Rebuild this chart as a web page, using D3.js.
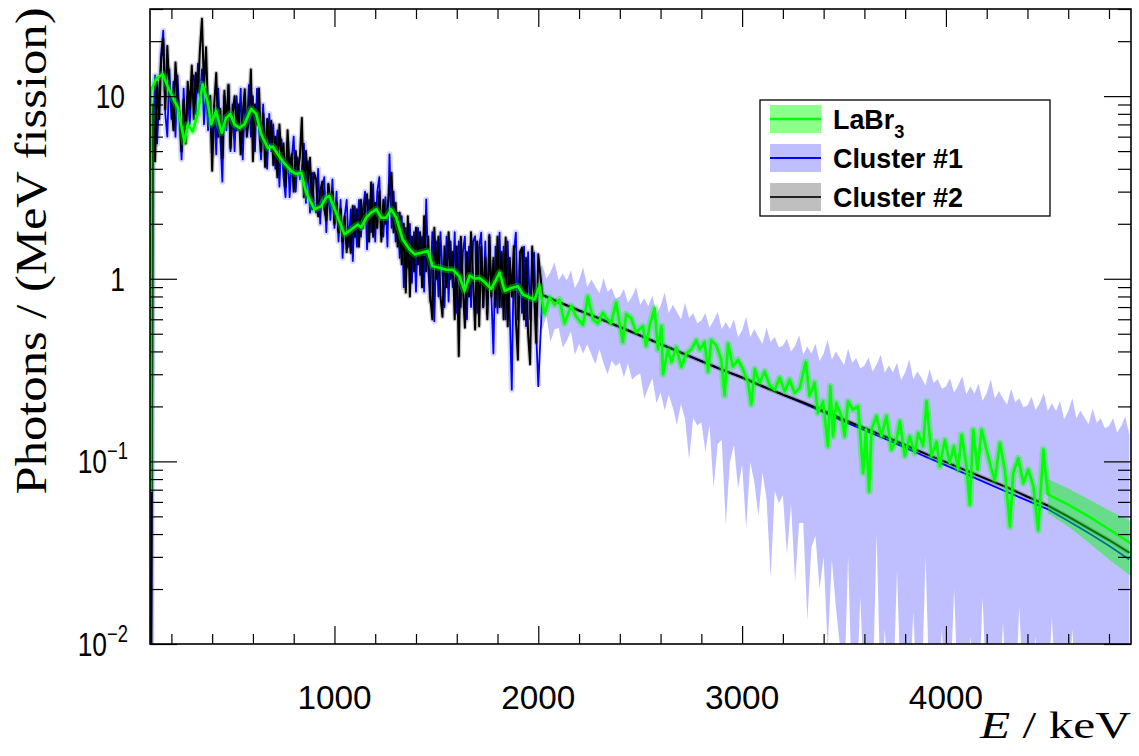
<!DOCTYPE html>
<html>
<head>
<meta charset="utf-8">
<script src="https://cdn.jsdelivr.net/npm/d3@7"></script>
<style>
  body { margin: 0; background: #fff; }
  svg { display: block; }
</style>
</head>
<body>
<svg id="chart" width="1139" height="756"></svg>
<script>
// ---------- LaBr3 spectrum (photons per MeV per fission) ----------
const labrE = [97,99,125,157,182,215,231,264,280,304,329,353,378,395,419,447,468,489,509,534,
  558,591,616,640,673,697,722,746,787,810,837,861,902,935,959,975,1008,1049,1082,1114,
  1131,1156,1180,1205,1229,1254,1278,1303,1335,1368,1393,1426,1458,1482,1515,1548,1581,1613,1638,1663,
  1687,1712,1736,1769,1793,1810,1835,1867,1900,1925,1957,1982,2006,
  2031,2055,2080,2104,2129,2161,2186,2219,2243,2268,2292,2317,2335,2357,2382,2415,2431,2455,2480,2513,2529,2546,
  2571,2587,2604,2612,2636,2653,2677,2702,2726,2751,2775,2792,2816,2833,2849,2874,2898,2914,2931,2955,
  2980,3004,3029,3045,3062,3086,3111,3135,3160,3184,3209,3233,3258,3283,
  3312,3331,3356,3372,3397,3421,3433,3446,3462,3487,3503,3520,3544,3569,3594,3607,3623,3635,3659,3684,
  3708,3733,3757,3774,3798,3823,3847,3864,3888,3905,3929,3954,3970,3995,4019,4039,4060,4077,4101,4117,
  4134,4155,4175,4199,4224,4240,4265,4289,4314,4330,4355,4380,4404,4429,4453,4478,4500];
const labrY = [0.068,10.7,12.4,13.2,11.3,9.4,8.7,5.6,7.0,6.4,8.0,11.6,9.3,7.0,8.3,6.3,7.6,8.0,7.0,6.7,
  7.0,8.5,8.0,6.2,5.2,5.3,4.8,4.4,3.9,3.75,3.8,2.96,2.40,2.50,2.78,2.84,2.30,1.75,1.86,1.98,
  1.91,2.16,2.30,2.40,2.16,2.16,2.40,2.16,1.64,1.45,1.36,1.39,1.42,1.17,1.15,1.12,1.12,1.03,0.86,1.04,
  1.00,1.01,0.96,0.88,0.99,1.08,0.86,0.89,0.91,0.82,0.79,0.77,0.91,
  0.64,0.79,0.72,0.77,0.57,0.71,0.62,0.56,0.80,0.60,0.57,0.65,0.61,0.57,0.74,0.45,0.64,0.61,0.51,0.55,0.43,0.55,
  0.69,0.41,0.55,0.30,0.41,0.35,0.42,0.33,0.39,0.41,0.46,0.41,0.45,0.31,0.46,0.43,0.36,0.23,0.44,0.33,
  0.36,0.32,0.27,0.205,0.32,0.27,0.31,0.26,0.247,0.287,0.242,0.28,0.237,0.252,
  0.35,0.228,0.27,0.184,0.213,0.121,0.258,0.137,0.209,0.177,0.137,0.213,0.192,0.20,0.0865,0.15,0.0685,0.149,0.177,0.137,
  0.177,0.116,0.131,0.166,0.107,0.137,0.111,0.143,0.121,0.213,0.107,0.128,0.094,0.131,0.098,0.121,0.090,0.140,0.094,0.058,
  0.149,0.090,0.149,0.116,0.090,0.079,0.126,0.090,0.044,0.0865,0.104,0.076,0.090,0.073,0.042,0.116,0.066];

// LaBr3 high-energy extrapolation with its uncertainty band
const labrTailE  = [4500, 4600, 4700, 4800, 4908];
const labrTailY  = [0.066, 0.058, 0.050, 0.0425, 0.0355];
const labrTailHi = [0.080, 0.071, 0.062, 0.054, 0.047];
const labrTailLo = [0.052, 0.044, 0.036, 0.029, 0.0235];

// ---------- Cluster detectors, measured part (10 keV bins, 100-2000 keV) ----------
const clusterBinE = d3.range(100, 2001, 10);
const cluster1Meas = [0.004,
  6.0,13.0,5.5,10.0,17.0,22.8,8.0,6.0,14.0,7.5,
  12.0,6.0,13.0,7.5,4.5,11.0,6.0,10.0,7.0,12.0,
  13.0,8.0,15.0,9.5,14.0,7.0,11.0,6.5,10.0,5.0,
  9.0,4.8,11.0,6.0,3.4,10.0,6.5,11.5,5.0,9.0,
  5.0,10.0,6.5,11.0,4.5,9.0,6.5,11.5,6.0,10.0,
  5.0,11.0,6.5,4.5,9.0,5.5,4.0,8.0,5.0,7.0,
  4.0,6.5,3.2,5.8,3.6,2.8,5.5,2.8,4.5,6.0,
  3.0,4.6,3.5,4.0,5.5,2.6,4.4,2.3,3.8,2.5,
  2.3,4.0,2.0,3.2,3.6,1.8,3.3,2.1,3.5,1.9,
  3.0,1.6,2.7,1.3,2.2,2.7,1.5,2.4,1.25,2.5,
  1.5,2.7,1.7,2.4,3.0,1.45,2.7,1.8,3.3,1.6,
  3.0,3.6,1.8,1.7,2.8,1.5,4.8,1.9,3.0,1.6,
  2.3,1.3,2.2,0.9,1.9,1.15,2.0,0.95,1.8,0.85,
  1.9,1.05,1.7,0.85,2.72,1.15,0.75,1.8,0.585,1.6,
  0.8,1.8,1.05,0.7,1.7,0.75,1.6,0.9,1.8,0.65,
  1.6,0.7,1.4,1.7,0.6,1.5,0.7,1.6,1.71,0.65,
  1.5,1.79,0.7,1.6,0.65,1.75,0.8,0.39,1.5,0.65,
  1.79,0.7,1.5,0.6,1.6,0.65,0.247,1.4,1.79,0.6,
  1.3,0.65,1.5,0.55,1.4,0.6,1.3,1.39,0.5,0.258];
const cluster2Meas = [0.004,
  9.0,4.4,12.0,7.5,16.0,20.5,8.5,18.8,11.0,9.5,
  6.5,15.3,10.0,8.0,5.0,9.5,5.5,12.0,8.5,14.7,
  7.5,13.4,10.5,18.0,26.5,11.0,18.5,8.0,10.0,3.9,
  9.0,13.4,6.0,8.5,4.6,10.7,7.0,11.5,5.2,8.0,
  10.0,6.5,9.0,4.8,8.0,10.9,6.0,7.5,14.0,4.4,
  9.0,7.0,11.0,5.0,8.0,4.1,7.5,5.5,7.3,4.2,
  6.0,3.6,7.0,4.5,5.5,3.2,6.5,4.0,4.8,3.0,
  5.0,3.9,4.6,7.6,2.8,5.0,3.4,4.6,2.4,3.8,
  3.5,2.2,3.0,3.4,2.4,2.1,3.3,2.7,3.0,2.0,
  2.6,1.8,2.4,1.6,2.2,1.4,1.9,1.39,2.5,1.7,
  2.4,1.5,2.7,1.9,2.5,2.9,1.6,3.37,1.7,2.6,
  1.9,3.0,1.6,2.7,2.0,2.4,3.2,3.8,1.8,2.6,
  1.5,2.3,1.2,2.0,0.84,2.2,0.80,1.7,1.1,1.9,
  1.2,1.8,0.9,2.2,1.1,1.7,0.8,0.60,1.9,1.0,
  1.7,0.8,0.62,1.5,0.9,1.8,1.0,1.4,0.6,1.5,
  0.377,1.7,0.9,0.54,1.4,0.8,1.8,1.0,0.527,1.6,
  0.55,1.5,0.7,1.3,0.6,1.71,0.8,1.3,0.7,1.7,
  0.7,1.4,0.6,1.68,0.55,1.3,0.8,1.5,0.6,0.36,
  1.4,1.48,0.6,1.3,0.5,0.34,1.5,0.8,0.446,1.36];

// ---------- Cluster detectors, simulated continuation (2020-4900 keV) ----------
const clusterSimE = [2020,2100,2200,2300,2400,2500,2600,2700,2800,2900,
  3000,3100,3200,3300,3400,3500,3600,3700,3800,3900,
  4000,4100,4200,4300,4400,4500,4600,4700,4800,4900];
const cluster1Sim = [0.815,0.746,0.670,0.606,0.544,0.489,0.439,0.394,0.354,0.318,
  0.288,0.258,0.232,0.208,0.186,0.165,0.148,0.133,0.119,0.106,
  0.095,0.085,0.076,0.068,0.061,0.0547,0.0472,0.0405,0.0345,0.0290];
const cluster2Sim = [0.815,0.746,0.670,0.606,0.544,0.489,0.439,0.394,0.354,0.318,
  0.288,0.258,0.232,0.210,0.189,0.169,0.152,0.137,0.123,0.110,
  0.099,0.089,0.080,0.072,0.064,0.0573,0.0498,0.0430,0.0371,0.0316];

// Cluster #1 uncertainty band (20 keV steps, 2000-4900 keV)
const bandE = d3.range(2000, 4901, 20);
const cluster1BandHi = [1.08,1.19,1.00,1.09,1.23,0.98,1.07,0.98,1.11,0.89,
  0.98,1.16,0.90,0.99,0.91,0.83,1.01,0.85,0.89,0.78,
  0.80,0.88,0.74,0.80,0.90,0.72,0.78,0.71,0.81,0.64,
  0.71,0.84,0.65,0.72,0.66,0.60,0.74,0.61,0.65,0.57,
  0.59,0.65,0.54,0.59,0.66,0.53,0.58,0.53,0.60,0.48,
  0.52,0.62,0.48,0.53,0.48,0.44,0.54,0.45,0.48,0.42,
  0.43,0.47,0.40,0.43,0.49,0.385,0.425,0.39,0.44,0.355,
  0.39,0.465,0.36,0.40,0.367,0.337,0.415,0.347,0.367,0.324,
  0.334,0.370,0.311,0.339,0.383,0.306,0.336,0.307,0.347,0.279,
  0.307,0.363,0.282,0.311,0.286,0.261,0.321,0.269,0.282,0.250,
  0.257,0.285,0.238,0.260,0.293,0.233,0.257,0.235,0.266,0.215,
  0.237,0.281,0.220,0.243,0.221,0.205,0.250,0.211,0.222,0.198,
  0.202,0.226,0.191,0.208,0.237,0.189,0.208,0.189,0.214,0.170,
  0.188,0.222,0.172,0.190,0.174,0.160,0.195,0.163,0.172,0.152,
  0.156,0.172,0.144,0.156,0.176,0.140];
const cluster1BandLo = [0.64,0.525,0.627,0.45,0.529,0.538,0.42,0.457,0.515,0.384,
  0.440,0.39,0.438,0.386,0.34,0.413,0.343,0.30,0.357,0.332,
  0.348,0.289,0.345,0.28,0.294,0.303,0.22,0.253,0.284,0.208,
  0.238,0.19,0.232,0.197,0.158,0.206,0.170,0.102,0.173,0.157,
  0.164,0.113,0.158,0.072,0.124,0.131,0.045,0.099,0.123,0.071,
  0.096,0.043,0.099,0.077,0.050,0.087,0.062,0.023,0.069,0.059,
  0.065,0.031,0.058,0.022,0.046,0.046,0.0135,0.034,0.039,0.020,
  0.030,0.0094,0.029,0.016,0.0097,0.005,0.030,0.005,0.005,0.018,
  0.005,0.005,0.005,0.040,0.005,0.012,0.005,0.005,0.025,0.005,
  0.005,0.005,0.015,0.005,0.005,0.030,0.005,0.005,0.005,0.012,
  0.005,0.005,0.020,0.005,0.005,0.005,0.011,0.005,0.005,0.018,
  0.005,0.005,0.005,0.005,0.013,0.005,0.005,0.005,0.016,0.005,
  0.005,0.005,0.011,0.005,0.005,0.005,0.014,0.005,0.005,0.005,
  0.005,0.012,0.005,0.005,0.005,0.010,0.005,0.005,0.005,0.005,
  0.011,0.005,0.005,0.005,0.005,0.005];

// Axis ticks and labels
const xMajorTicks = [1000, 2000, 3000, 4000];
const xTickLabels = ["1000", "2000", "3000", "4000"];
const xMinorTicks = [200,400,600,800,1200,1400,1600,1800,2200,2400,2600,2800,3200,3400,3600,3800,4200,4400,4600,4800];
const yMajorTicks = [0.01, 0.1, 1, 10];
const yTickLabels = [["10", "\u22122"], ["10", "\u22121"], ["1", null], ["10", null]];
const yMinorTicks = [0.02,0.03,0.04,0.05,0.06,0.07,0.08,0.09,0.2,0.3,0.4,0.5,0.6,0.7,0.8,0.9,2,3,4,5,6,7,8,9,20,30];

const legendEntries = [
  { label: "LaBr", sub: "3", line: "#00ff00", fill: "rgba(0,255,0,0.45)" },
  { label: "Cluster #1", sub: null, line: "#0000ff", fill: "rgba(0,0,255,0.25)" },
  { label: "Cluster #2", sub: null, line: "#222", fill: "rgba(0,0,0,0.25)" }
];

// ---------- Layout ----------
const frame = { left: 150, right: 1131, top: 9, bottom: 644 };
const x = d3.scaleLinear().domain([95, 4908]).range([frame.left, frame.right]);
const y = d3.scaleLog().domain([0.01, 30]).range([frame.bottom, frame.top]);

const svg = d3.select("#chart");
svg.append("rect").attr("width", 1139).attr("height", 756).attr("fill", "#fff");

svg.append("defs").append("clipPath").attr("id", "plotClip")
  .append("rect")
  .attr("x", frame.left).attr("y", frame.top)
  .attr("width", frame.right - frame.left).attr("height", frame.bottom - frame.top);

const plot = svg.append("g").attr("clip-path", "url(#plotClip)");

const line = d3.line().x(d => x(d[0])).y(d => y(d[1]));
const band = d3.area().x(d => x(d[0])).y0(d => y(d[1])).y1(d => y(d[2]));

const c1Meas = d3.zip(clusterBinE, cluster1Meas);
const c2Meas = d3.zip(clusterBinE, cluster2Meas);
const c1All = c1Meas.concat(d3.zip(clusterSimE, cluster1Sim));
const c2All = c2Meas.concat(d3.zip(clusterSimE, cluster2Sim));
const labrMain = d3.zip(labrE, labrY);
const labrAll = labrMain.concat(d3.zip(labrTailE, labrTailY).slice(1));

// Cluster #1 band
plot.append("path")
  .datum(d3.zip(bandE, cluster1BandLo, cluster1BandHi))
  .attr("d", band)
  .attr("fill", "rgba(0,0,255,0.25)");

// Cluster #1 measured haze + line
plot.append("path").datum(c1Meas).attr("d", line)
  .attr("fill", "none").attr("stroke", "rgba(0,0,255,0.14)")
  .attr("stroke-width", 6).attr("stroke-linejoin", "round");
plot.append("path").datum(c1All).attr("d", line)
  .attr("fill", "none").attr("stroke", "#0000ff")
  .attr("stroke-width", 1.8).attr("stroke-linejoin", "round");

// Cluster #2 band (narrow) + line
plot.append("path").datum(c2All).attr("d", line)
  .attr("fill", "none").attr("stroke", "rgba(0,0,0,0.2)")
  .attr("stroke-width", 4.5).attr("stroke-linejoin", "round");
plot.append("path").datum(c2All).attr("d", line)
  .attr("fill", "none").attr("stroke", "#000")
  .attr("stroke-width", 2).attr("stroke-linejoin", "round");

// LaBr3 band + line
plot.append("path").datum(labrMain).attr("d", line)
  .attr("fill", "none").attr("stroke", "rgba(0,255,0,0.35)")
  .attr("stroke-width", 7).attr("stroke-linejoin", "round");
plot.append("path")
  .datum(d3.zip(labrTailE, labrTailLo, labrTailHi))
  .attr("d", band)
  .attr("fill", "rgba(0,255,0,0.45)");
plot.append("path").datum(labrAll).attr("d", line)
  .attr("fill", "none").attr("stroke", "#00ff00")
  .attr("stroke-width", 2.6).attr("stroke-linejoin", "round");

// ---------- Axes (ticks point inward on all four sides) ----------
function styleAxis(g) {
  g.select(".domain").remove();
  g.selectAll(".tick line").attr("stroke", "#000").attr("stroke-width", 1.2);
  g.selectAll(".tick text").remove();
}
const axes = svg.append("g");
axes.append("g").attr("transform", `translate(0,${frame.bottom})`)
  .call(d3.axisBottom(x).tickValues(xMajorTicks).tickSize(-18)).call(styleAxis);
axes.append("g").attr("transform", `translate(0,${frame.bottom})`)
  .call(d3.axisBottom(x).tickValues(xMinorTicks).tickSize(-10)).call(styleAxis);
axes.append("g").attr("transform", `translate(0,${frame.top})`)
  .call(d3.axisTop(x).tickValues(xMajorTicks).tickSize(-18)).call(styleAxis);
axes.append("g").attr("transform", `translate(0,${frame.top})`)
  .call(d3.axisTop(x).tickValues(xMinorTicks).tickSize(-10)).call(styleAxis);
axes.append("g").attr("transform", `translate(${frame.left},0)`)
  .call(d3.axisLeft(y).tickValues(yMajorTicks).tickSize(-27)).call(styleAxis);
axes.append("g").attr("transform", `translate(${frame.left},0)`)
  .call(d3.axisLeft(y).tickValues(yMinorTicks).tickSize(-13)).call(styleAxis);
axes.append("g").attr("transform", `translate(${frame.right},0)`)
  .call(d3.axisRight(y).tickValues(yMajorTicks).tickSize(-27)).call(styleAxis);
axes.append("g").attr("transform", `translate(${frame.right},0)`)
  .call(d3.axisRight(y).tickValues(yMinorTicks).tickSize(-13)).call(styleAxis);

svg.append("rect")
  .attr("x", frame.left).attr("y", frame.top)
  .attr("width", frame.right - frame.left).attr("height", frame.bottom - frame.top)
  .attr("fill", "none").attr("stroke", "#000").attr("stroke-width", 1.6);

// ---------- Tick labels ----------
const sans = "'Liberation Sans', Arial, Helvetica, sans-serif";
const serif = "'Liberation Serif', 'Times New Roman', Times, serif";

xMajorTicks.forEach((v, i) => {
  svg.append("g").attr("transform", `translate(${x(v)},${709}) scale(0.98,1)`)
    .append("text").attr("text-anchor", "middle")
    .attr("font-family", sans).attr("font-size", 34).attr("fill", "#000")
    .text(xTickLabels[i]);
});

yMajorTicks.forEach((v, i) => {
  const [base, exp] = yTickLabels[i];
  const g = svg.append("g").attr("transform", `translate(${exp ? 128 : 125},${y(v) + 12}) scale(0.8,1)`);
  const t = g.append("text").attr("text-anchor", "end")
    .attr("font-family", sans).attr("font-size", 33).attr("fill", "#000");
  t.append("tspan").text(base);
  if (exp) {
    t.append("tspan").attr("font-size", 23).attr("dy", -14).text(exp);
  }
});

// ---------- Axis titles ----------
svg.append("text")
  .attr("transform", `translate(46,251) rotate(-90)`)
  .attr("text-anchor", "middle")
  .attr("font-family", serif).attr("font-size", 44).attr("fill", "#000")
  .attr("textLength", 487).attr("lengthAdjust", "spacingAndGlyphs")
  .text("Photons / (MeV fission)");

const xt = svg.append("text")
  .attr("x", 1131).attr("y", 738).attr("text-anchor", "end")
  .attr("font-family", serif).attr("font-size", 38).attr("fill", "#000")
  .attr("textLength", 151).attr("lengthAdjust", "spacingAndGlyphs");
xt.append("tspan").attr("font-style", "italic").text("E");
xt.append("tspan").text(" / keV");

// ---------- Legend ----------
const legend = svg.append("g");
legend.append("rect")
  .attr("x", 760).attr("y", 100).attr("width", 290).attr("height", 116)
  .attr("fill", "#fff").attr("stroke", "#000").attr("stroke-width", 1.3);

const rowY = [119, 158, 197];
legendEntries.forEach((e, i) => {
  const cy = rowY[i];
  legend.append("rect").attr("x", 770).attr("y", cy - 14).attr("width", 51).attr("height", 28)
    .attr("fill", e.fill);
  legend.append("line").attr("x1", 770).attr("x2", 821).attr("y1", cy).attr("y2", cy)
    .attr("stroke", e.line).attr("stroke-width", i === 0 ? 2.6 : 1.8);
  const g = legend.append("g").attr("transform", `translate(833,${cy + 10}) scale(0.96,1)`);
  const t = g.append("text").attr("font-family", sans).attr("font-weight", "bold")
    .attr("font-size", 28).attr("fill", "#000");
  t.append("tspan").text(e.label);
  if (e.sub) t.append("tspan").attr("font-size", 19).attr("dy", 9).text(e.sub);
});
</script>
</body>
</html>
